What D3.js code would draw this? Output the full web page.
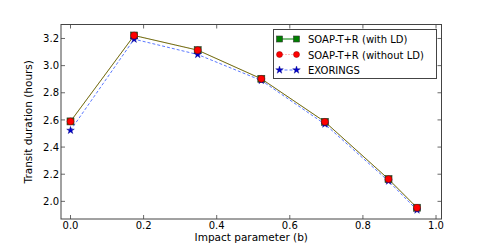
<!DOCTYPE html>
<html><head><meta charset="utf-8">
<script src="https://cdn.jsdelivr.net/npm/d3@7"></script>
<style>body{margin:0;background:#fff}svg{display:block}text{font-family:"DejaVu Sans",sans-serif;fill:#000}</style>
</head><body><svg id="c" width="491" height="244"></svg>
<script>
const impact = [0.0, 0.174, 0.348, 0.522, 0.696, 0.870, 0.948];
const withLD = [2.589, 3.222, 3.114, 2.903, 2.586, 2.164, 1.953];
const withoutLD = [2.589, 3.222, 3.114, 2.903, 2.586, 2.164, 1.953];
const exorings = [2.523, 3.195, 3.082, 2.891, 2.569, 2.149, 1.936];
const xTicks = [0.0, 0.2, 0.4, 0.6, 0.8, 1.0];
const yTicks = [2.0, 2.2, 2.4, 2.6, 2.8, 3.0, 3.2];
const seriesNames = ["SOAP-T+R (with LD)", "SOAP-T+R (without LD)", "EXORINGS"];

const svg = d3.select("#c");
const L = 61, R = 441.5, T = 24.5, B = 219;
const x = d3.scaleLinear().domain([-0.026, 1.015]).range([L, R]);
const y = d3.scaleLinear().domain([1.870, 3.303]).range([B, T]);

const g = svg.append("g");
const tl = 4;
xTicks.forEach(v => {
  g.append("line").attr("x1", x(v)).attr("x2", x(v)).attr("y1", B).attr("y2", B - tl).attr("stroke", "#000").attr("stroke-width", 0.6);
  g.append("line").attr("x1", x(v)).attr("x2", x(v)).attr("y1", T).attr("y2", T + tl).attr("stroke", "#000").attr("stroke-width", 0.6);
  g.append("text").attr("x", x(v)).attr("y", 229).attr("text-anchor", "middle").attr("font-size", 10).text(d3.format(".1f")(v));
});
yTicks.forEach(v => {
  g.append("line").attr("y1", y(v)).attr("y2", y(v)).attr("x1", L).attr("x2", L + tl).attr("stroke", "#000").attr("stroke-width", 0.6);
  g.append("line").attr("y1", y(v)).attr("y2", y(v)).attr("x1", R).attr("x2", R - tl).attr("stroke", "#000").attr("stroke-width", 0.6);
  g.append("text").attr("x", L - 2).attr("y", y(v) + 3.6).attr("text-anchor", "end").attr("font-size", 10).text(d3.format(".1f")(v));
});

const line = d3.line().x(d => x(d[0])).y(d => y(d[1]));
const dGreen = impact.map((v, i) => [v, withLD[i]]);
const dRed = impact.map((v, i) => [v, withoutLD[i]]);
const dBlue = impact.map((v, i) => [v, exorings[i]]);

g.append("path").attr("d", line(dGreen)).attr("fill", "none").attr("stroke", "#5a7a10").attr("stroke-width", 1);
g.append("path").attr("d", line(dRed)).attr("fill", "none").attr("stroke", "#ff3030").attr("stroke-width", 1).attr("stroke-dasharray", "1,1").attr("opacity", 0.35);
g.append("path").attr("d", line(dBlue)).attr("fill", "none").attr("stroke", "#5a78ff").attr("stroke-width", 1).attr("stroke-dasharray", "3,2");

const sq = 7;
function square(sel, cx, cy, s) {
  s = s || sq;
  sel.append("rect").attr("x", cx - s/2).attr("y", cy - s/2).attr("width", s).attr("height", s).attr("fill", "#008000").attr("stroke", "#333").attr("stroke-width", 0.6);
}
function circle(sel, cx, cy, r) {
  sel.append("circle").attr("cx", cx).attr("cy", cy).attr("r", r || 3.4).attr("fill", "#ff0000").attr("stroke", "#800").attr("stroke-width", 0.5);
}
const star = d3.symbol().type(d3.symbolStar).size(18);
function starM(sel, cx, cy) {
  sel.append("path").attr("d", star()).attr("transform", `translate(${cx},${cy})`).attr("fill", "#0000cc").attr("stroke", "#000080").attr("stroke-width", 0.4);
}
dGreen.forEach(d => square(g, x(d[0]), y(d[1])));
dBlue.forEach(d => starM(g, x(d[0]), y(d[1])));
dRed.forEach(d => circle(g, x(d[0]), y(d[1])));

g.append("rect").attr("x", L).attr("y", T).attr("width", R - L).attr("height", B - T).attr("fill", "none").attr("stroke", "#444").attr("stroke-width", 1);

// legend
const lg = svg.append("g");
lg.append("rect").attr("x", 273.5).attr("y", 29.5).attr("width", 163).attr("height", 49).attr("fill", "#fff").attr("stroke", "#444").attr("stroke-width", 1);
const ly = [39, 54.5, 70];
const lx1 = 279.5, lx2 = 296.5;
lg.append("line").attr("x1", lx1).attr("x2", lx2).attr("y1", ly[0]).attr("y2", ly[0]).attr("stroke", "#008000");
square(lg, lx1, ly[0], 6); square(lg, lx2, ly[0], 6);
lg.append("line").attr("x1", lx1).attr("x2", lx2).attr("y1", ly[1]).attr("y2", ly[1]).attr("stroke", "#ff0000").attr("stroke-dasharray", "1,2").attr("opacity", 0.5);
circle(lg, lx1, ly[1], 3); circle(lg, lx2, ly[1], 3);
lg.append("line").attr("x1", lx1).attr("x2", lx2).attr("y1", ly[2]).attr("y2", ly[2]).attr("stroke", "#5a78ff").attr("stroke-dasharray", "3,2");
starM(lg, lx1, ly[2]); starM(lg, lx2, ly[2]);
seriesNames.forEach((n, i) => lg.append("text").attr("x", 308).attr("y", ly[i] + 4).attr("font-size", 10).text(n));

svg.append("text").attr("x", (L + R) / 2).attr("y", 241).attr("text-anchor", "middle").attr("font-size", 10.5).text("Impact parameter (b)");
svg.append("text").attr("transform", `translate(32,${(T + B) / 2}) rotate(-90)`).attr("text-anchor", "middle").attr("font-size", 10.5).text("Transit duration (hours)");
</script></body></html>
